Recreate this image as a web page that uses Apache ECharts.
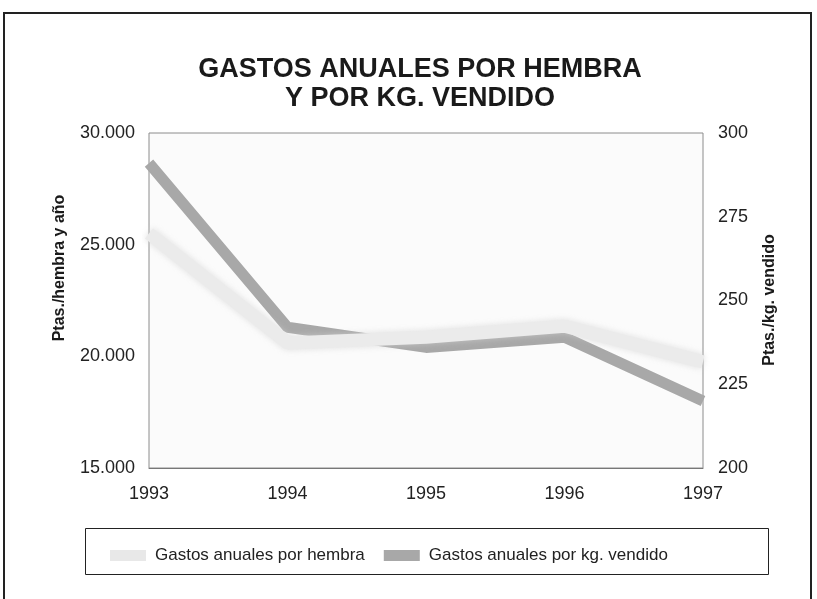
<!DOCTYPE html>
<html>
<head>
<meta charset="utf-8">
<script src="https://cdn.jsdelivr.net/npm/echarts@6/dist/echarts.min.js"></script>
<style>
  html, body { margin: 0; padding: 0; background: #fff; }
  #chart { width: 817px; height: 599px; }
</style>
</head>
<body>
<div id="chart"></div>
<script>
// datos
const years = ['1993', '1994', '1995', '1996', '1997']
const gastosHembra = [25500, 20600, 20850, 21350, 19750] // Ptas./hembra y año
const gastosKg = [291, 242, 236, 239, 220] // Ptas./kg. vendido
const leftTicks = [15000, 20000, 25000, 30000]
const rightTicks = [200, 225, 250, 275, 300]

const FONT = '"Liberation Sans", Arial, sans-serif'

const chart = echarts.init(document.getElementById('chart'))

function miles(v) {
  // 30000 -> 30.000
  return String(v).replace(/\B(?=(\d{3})+(?!\d))/g, '.')
}

const option = {
  backgroundColor: '#fff',
  animation: false,
  title: {
    text: 'GASTOS ANUALES POR HEMBRA\nY POR KG. VENDIDO',
    left: 415,
    top: 50,
    textAlign: 'center',
    textStyle: {
      fontFamily: FONT,
      fontSize: 27,
      fontWeight: 'bold',
      lineHeight: 29,
      color: '#1a1a1a'
    }
  },
  legend: {
    data: ['Gastos anuales por hembra', 'Gastos anuales por kg. vendido'],
    left: 105,
    top: 542,
    icon: 'rect',
    itemWidth: 36,
    itemHeight: 11,
    itemGap: 19,
    textStyle: {
      fontFamily: FONT,
      fontSize: 17,
      color: '#222',
      padding: [0, 0, 0, 4]
    }
  },
  grid: {
    left: 149,
    right: 114,
    top: 133,
    bottom: 131,
    show: true,
    backgroundColor: '#fbfbfb',
    borderColor: '#8c8c8c',
    borderWidth: 1
  },
  xAxis: {
    type: 'category',
    data: years,
    boundaryGap: false,
    axisLine: { show: true, lineStyle: { color: '#777' } },
    axisTick: { show: false },
    axisLabel: {
      fontFamily: FONT,
      fontSize: 18,
      color: '#222',
      margin: 17
    },
    splitLine: { show: false }
  },
  yAxis: [
    {
      type: 'value',
      min: leftTicks[0],
      max: leftTicks[leftTicks.length - 1],
      interval: 5000,
      position: 'left',
      axisLine: { show: false },
      axisTick: { show: false },
      splitLine: { show: false },
      axisLabel: {
        fontFamily: FONT,
        fontSize: 18,
        color: '#222',
        margin: 14,
        formatter: miles
      }
    },
    {
      type: 'value',
      min: rightTicks[0],
      max: rightTicks[rightTicks.length - 1],
      interval: 25,
      position: 'right',
      axisLine: { show: false },
      axisTick: { show: false },
      splitLine: { show: false },
      axisLabel: {
        fontFamily: FONT,
        fontSize: 18,
        color: '#222',
        margin: 15
      }
    }
  ],
  series: [
    {
      name: 'Gastos anuales por kg. vendido',
      type: 'line',
      yAxisIndex: 1,
      data: gastosKg,
      symbol: 'none',
      z: 2,
      itemStyle: { color: '#a8a8a8' },
      lineStyle: { color: '#a8a8a8', width: 11 }
    },
    {
      name: 'Gastos anuales por hembra',
      type: 'line',
      yAxisIndex: 0,
      data: gastosHembra,
      symbol: 'none',
      z: 3,
      itemStyle: { color: '#e8e8e8' },
      lineStyle: {
        color: '#ebebeb',
        width: 13,
        shadowColor: 'rgba(210,210,210,0.7)',
        shadowBlur: 6
      }
    }
  ],
  graphic: [
    // marco exterior
    {
      type: 'polyline',
      silent: true,
      shape: { points: [[4, 599], [4, 13], [811, 13], [811, 599]] },
      style: { stroke: '#222', lineWidth: 2, fill: null }
    },
    // caja de la leyenda
    {
      type: 'rect',
      silent: true,
      shape: { x: 85.5, y: 528.5, width: 683, height: 46 },
      style: { stroke: '#222', lineWidth: 1, fill: '#fff' },
      z: -1
    },
    {
      type: 'text',
      x: 60,
      y: 268,
      rotation: Math.PI / 2,
      style: {
        text: 'Ptas./hembra y año',
        font: 'bold 16px ' + FONT,
        fill: '#1a1a1a',
        align: 'center',
        verticalAlign: 'middle'
      }
    },
    {
      type: 'text',
      x: 770,
      y: 300,
      rotation: Math.PI / 2,
      style: {
        text: 'Ptas./kg. vendido',
        font: 'bold 16px ' + FONT,
        fill: '#1a1a1a',
        align: 'center',
        verticalAlign: 'middle'
      }
    }
  ]
}

chart.setOption(option)
</script>
</body>
</html>
